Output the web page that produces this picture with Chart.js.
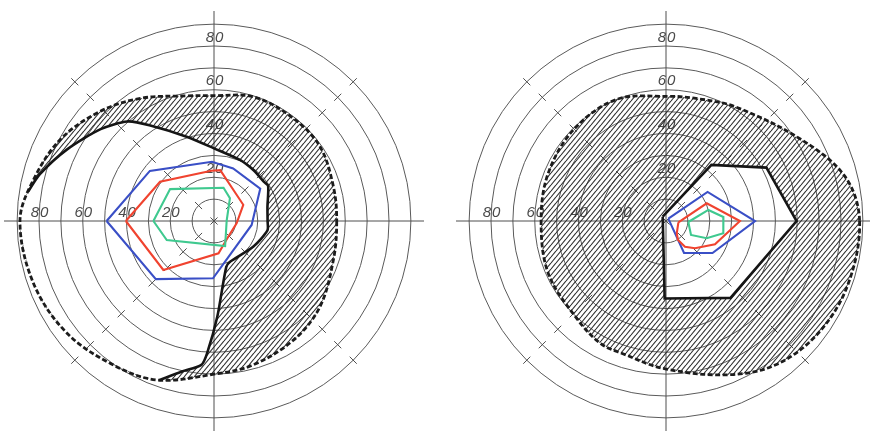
<!DOCTYPE html>
<html>
<head>
<meta charset="utf-8">
<script src="https://cdn.jsdelivr.net/npm/chart.js@4.4.1/dist/chart.umd.min.js"></script>
<style>
  html, body { margin: 0; padding: 0; overflow: hidden; background: #fff; }
  #stage { position: relative; width: 870px; height: 432px; overflow: hidden; background: #fff; }
  #stage canvas { position: absolute; }
</style>
</head>
<body>
<div id="stage">
  <canvas id="leftField" width="420" height="420" style="left:4px;top:11px"></canvas>
  <canvas id="leftPaths" width="420" height="420" style="left:4px;top:11px"></canvas>
  <canvas id="rightField" width="420" height="420" style="left:456px;top:11px"></canvas>
  <canvas id="rightPaths" width="420" height="420" style="left:456px;top:11px"></canvas>
</div>
<script>
// Visual field charts. Every point is [angle, eccentricity]:
// angle in degrees counter-clockwise from the right, eccentricity in degrees.
const ringLabels = [20, 40, 60, 80];

// left field
const leftOuter = [[0, 56.1], [16, 56.8], [35, 59.2], [52, 59.3], [72, 59.6], [90, 57.3], [102, 58.5],
  [121, 65.4], [136, 72.2], [152, 79.5], [167, 84.6], [180, 88.7], [199, 87.3], [217, 84.6],
  [234, 80.5], [250, 77.3], [270, 70], [285, 68.2], [304, 65.4], [321, 62.3], [342, 57.4]];
// heavy line, open: it starts and ends on the dashed limit
const leftInner = [[171, 86], [165, 82.5], [154, 74.7], [141, 66.7], [131, 60.3], [124, 52.8],
  [108, 40.5], [90, 33.2], [67, 30.3], [52, 29.4], [38, 29], [33, 29.5], [15, 25.3], [0, 24.5],
  [350, 24.8], [327, 21.5], [292, 20], [285, 21.7], [272, 43.7], [267, 60.6], [265, 66],
  [258, 70.3], [251, 77]];
const leftBlue = [[180, 49.1], [142, 37.2], [92, 27.1], [70, 25.6], [35, 25.8], [354, 17.3], [269, 26.2], [225, 37.6]];
const leftRed = [[180, 40.3], [144, 30.5], [93, 23], [83, 23.4], [29, 15.3], [354, 10.4], [312, 9.7], [278, 14.9], [224, 32.2]];
const leftGreen = [[180, 27.7], [144, 24.8], [74, 15.8], [55, 12.7], [2, 5.8], [294, 12.5], [202, 23.3]];

// right field
const rightOuter = [[0, 88.5], [14, 84.3], [31, 72.2], [59, 61], [77, 57.6], [90, 57], [112, 60],
  [135, 59.4], [158, 58.1], [180, 57.1], [204, 58.9], [228, 60.5], [242, 63.5], [252, 63.8],
  [270, 67.7], [293, 76.3], [308, 82.9], [324, 86.5], [341, 88.1]];
// heavy line, closed
const rightInner = [[127, 2.5], [269, 35.4], [310, 45.9], [0, 59.7], [28, 52], [51, 33]];
const rightBlue = [[45, 1.5], [35, 23.2], [0, 40.7], [325.5, 25.8], [299.4, 16.8]];
const rightRed = [[354, 5.7], [23.5, 20.3], [0, 33.8], [334.6, 24.8], [316.7, 18.2], [306.5, 14.6], [302.3, 10.3], [311, 7.5]];
const rightGreen = [[357.4, 10.2], [14.6, 20], [4, 26.3], [347.9, 26.8], [337, 20.2], [330.8, 13.1]];

const SPOKES = 360;
const MAX_R = 96;
const TICK = 10;
const spokeAngle = i => (SPOKES - i) % SPOKES;
const spokeLabels = Array.from({ length: SPOKES }, (_, i) => String(spokeAngle(i)));

function toSpokes(points) {
    const arr = new Array(SPOKES).fill(null);
    points.forEach(([a, r]) => { arr[(SPOKES - Math.round(a)) % SPOKES] = r; });
    return arr;
}

function toXY(points, closed) {
    const out = points.map(([a, r]) => ({
        x: r * Math.cos(a * Math.PI / 180),
        y: r * Math.sin(a * Math.PI / 180)
    }));
    if (closed) out.push(out[0]);
    return out;
}

function hatch(ctx) {
    const tile = document.createElement('canvas');
    tile.width = 5;
    tile.height = 6;
    const g = tile.getContext('2d');
    g.strokeStyle = '#2c2c2c';
    g.lineWidth = 1.1;
    [-5, 0, 5].forEach(dx => {
        g.beginPath();
        g.moveTo(dx, 6);
        g.lineTo(dx + 5, 0);
        g.stroke();
    });
    return ctx.createPattern(tile, 'repeat');
}

// ring numbers, up the vertical axis and along the left half of the horizontal one
const ringNumbers = {
    id: 'ringNumbers',
    beforeDatasetsDraw(chart) {
        const s = chart.scales.r;
        const ctx = chart.ctx;
        ctx.save();
        ctx.font = 'italic 15px "Liberation Sans"';
        ctx.letterSpacing = '1px';
        ctx.fillStyle = '#4a4a4a';
        ctx.textAlign = 'center';
        ctx.textBaseline = 'middle';
        ringLabels.forEach(v => {
            const d = s.getDistanceFromCenterForValue(v);
            ctx.fillText(String(v), s.xCenter + 1, s.yCenter - d - 8.5);
            ctx.fillText(String(v), s.xCenter - d + 1, s.yCenter - 8);
        });
        ctx.restore();
    }
};

// grid, dashed outer limit and the hatched band between it and the inner boundary
function drawField(id, outer, boundary, tension) {
    const canvas = document.getElementById(id);
    const pattern = hatch(canvas.getContext('2d'));

    new Chart(canvas, {
        type: 'radar',
        data: {
            labels: spokeLabels,
            datasets: [{
                data: toSpokes(boundary),
                borderWidth: 0,
                borderColor: 'rgba(0,0,0,0)',
                fill: false,
                spanGaps: true,
                tension: tension
            }, {
                data: toSpokes(outer),
                borderColor: '#1c1c1c',
                borderWidth: 2.8,
                borderDash: [5, 2.5],
                fill: '-1',
                backgroundColor: pattern,
                spanGaps: true,
                tension: 0.35
            }]
        },
        options: {
            responsive: false,
            animation: false,
            devicePixelRatio: 1,
            events: [],
            layout: { padding: 0 },
            elements: { point: { radius: 0 } },
            scales: {
                r: {
                    min: 0,
                    max: MAX_R,
                    startAngle: 90,
                    ticks: { display: false, stepSize: 10 },
                    pointLabels: { display: false },
                    grid: {
                        circular: true,
                        color: '#5a5a5a',
                        lineWidth: c => (c.tick && c.tick.value > 90) ? 0 : 1
                    },
                    angleLines: {
                        color: '#4e4e4e',
                        lineWidth: c => spokeAngle(c.index) % 45 === 0 ? 1 : 0,
                        borderDash: c => {
                            if (spokeAngle(c.index) % 90 === 0) return [];
                            const step = c.scale.getDistanceFromCenterForValue(10);
                            return [TICK, step - TICK];
                        },
                        borderDashOffset: c => spokeAngle(c.index) % 90 === 0 ? 0 : TICK / 2
                    }
                }
            },
            plugins: {
                legend: { display: false },
                tooltip: { enabled: false }
            }
        },
        plugins: [ringNumbers]
    });
}

// heavy line and the three colour isopters, on the same scale as the grid
function drawIsopters(id, heavy, heavyClosed, tension, blue, red, green) {
    const line = (pts, color, width, closed, t) => ({
        data: toXY(pts, closed),
        borderColor: color,
        borderWidth: width,
        showLine: true,
        fill: false,
        pointRadius: 0,
        tension: t
    });
    new Chart(document.getElementById(id), {
        type: 'scatter',
        data: {
            datasets: [
                line(green, '#3fc98f', 2.1, true, 0),
                line(red, '#f0432f', 2.1, true, 0),
                line(blue, '#3a4fc6', 2.1, true, 0),
                line(heavy, '#151515', 2.6, heavyClosed, tension)
            ]
        },
        options: {
            responsive: false,
            animation: false,
            devicePixelRatio: 1,
            events: [],
            layout: { padding: 0 },
            scales: {
                x: { type: 'linear', min: -MAX_R, max: MAX_R, display: false },
                y: { type: 'linear', min: -MAX_R, max: MAX_R, display: false }
            },
            plugins: {
                legend: { display: false },
                tooltip: { enabled: false }
            }
        }
    });
}

drawField('leftField', leftOuter, [...leftInner, ...leftOuter.filter(([a]) => a > 171 && a < 248)], 0.25);
drawIsopters('leftPaths', leftInner, false, 0.25, leftBlue, leftRed, leftGreen);
drawField('rightField', rightOuter, rightInner, 0);
drawIsopters('rightPaths', rightInner, true, 0, rightBlue, rightRed, rightGreen);
</script>
</body>
</html>
